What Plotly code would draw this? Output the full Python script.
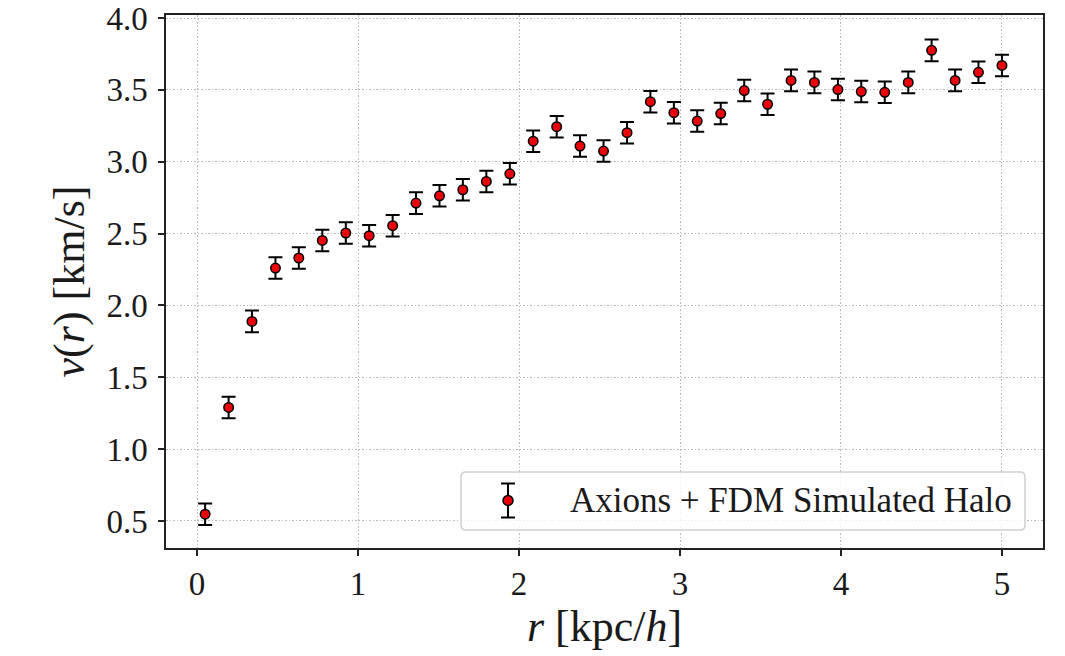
import plotly.graph_objects as go

r_vals = [0.05, 0.196, 0.341, 0.487, 0.632, 0.778, 0.924, 1.069, 1.215, 1.360,
          1.506, 1.651, 1.797, 1.943, 2.088, 2.234, 2.379, 2.525, 2.671, 2.816,
          2.962, 3.107, 3.253, 3.399, 3.544, 3.690, 3.835, 3.981, 4.126, 4.272,
          4.418, 4.563, 4.709, 4.854, 5.0]
v_vals = [0.547, 1.29, 1.889, 2.260, 2.330, 2.452, 2.504, 2.485, 2.555, 2.712,
          2.763, 2.805, 2.863, 2.916, 3.143, 3.244, 3.109, 3.074, 3.202, 3.418,
          3.341, 3.283, 3.335, 3.495, 3.400, 3.566, 3.552, 3.502, 3.488, 3.483,
          3.552, 3.775, 3.566, 3.622, 3.670]
v_err = [0.075, 0.075, 0.075, 0.075, 0.075, 0.075, 0.075, 0.075, 0.075, 0.075,
         0.075, 0.075, 0.075, 0.075, 0.075, 0.075, 0.075, 0.075, 0.075, 0.075,
         0.075, 0.075, 0.075, 0.075, 0.075, 0.075, 0.075, 0.075, 0.075, 0.075,
         0.075, 0.075, 0.075, 0.075, 0.075]
x_ticks = [0, 1, 2, 3, 4, 5]
y_ticks = [0.5, 1.0, 1.5, 2.0, 2.5, 3.0, 3.5, 4.0]
series_name = "Axions + FDM Simulated Halo"

FONT = "Liberation Serif"
TXT = "#1a1a1a"
RED = "#e8000b"

# plot-area geometry (pixels) used to place the hand-drawn legend
W, H = 1065, 656
ML, MR, MT, MB = 166, 22, 15, 108
PW, PH = W - ML - MR, H - MT - MB


def px2x(px):
    return (px - ML) / PW


def px2y(py):
    return (H - MB - py) / PH


fig = go.Figure()
fig.add_trace(go.Scatter(
    x=r_vals, y=v_vals, mode="markers", name=series_name, showlegend=False,
    marker=dict(color=RED, size=9.5, line=dict(color="black", width=1.5)),
    error_y=dict(type="data", array=v_err, visible=True, color="black",
                 thickness=2, width=7),
))

# legend (matplotlib-style rounded frame with errorbar glyph)
bx0, bx1, by0, by1, rad = 461, 1025, 472, 530, 5
path = (
    f"M {px2x(bx0 + rad)},{px2y(by0)} L {px2x(bx1 - rad)},{px2y(by0)} "
    f"Q {px2x(bx1)},{px2y(by0)} {px2x(bx1)},{px2y(by0 + rad)} "
    f"L {px2x(bx1)},{px2y(by1 - rad)} "
    f"Q {px2x(bx1)},{px2y(by1)} {px2x(bx1 - rad)},{px2y(by1)} "
    f"L {px2x(bx0 + rad)},{px2y(by1)} "
    f"Q {px2x(bx0)},{px2y(by1)} {px2x(bx0)},{px2y(by1 - rad)} "
    f"L {px2x(bx0)},{px2y(by0 + rad)} "
    f"Q {px2x(bx0)},{px2y(by0)} {px2x(bx0 + rad)},{px2y(by0)} Z"
)
gx, gy, gh, gc = 508, 500.5, 17, 7
shapes = [
    dict(type="path", path=path, xref="paper", yref="paper", layer="above",
         fillcolor="rgba(255,255,255,0.8)", line=dict(color="#cfcfcf", width=1.5)),
    dict(type="line", xref="paper", yref="paper", layer="above",
         x0=px2x(gx), x1=px2x(gx), y0=px2y(gy - gh), y1=px2y(gy + gh),
         line=dict(color="black", width=2)),
    dict(type="line", xref="paper", yref="paper", layer="above",
         x0=px2x(gx - gc), x1=px2x(gx + gc), y0=px2y(gy - gh), y1=px2y(gy - gh),
         line=dict(color="black", width=2)),
    dict(type="line", xref="paper", yref="paper", layer="above",
         x0=px2x(gx - gc), x1=px2x(gx + gc), y0=px2y(gy + gh), y1=px2y(gy + gh),
         line=dict(color="black", width=2)),
    dict(type="circle", xref="paper", yref="paper", layer="above",
         x0=px2x(gx - 5), x1=px2x(gx + 5), y0=px2y(gy + 5), y1=px2y(gy - 5),
         fillcolor=RED, line=dict(color="black", width=1.5)),
]

fig.update_layout(
    width=W, height=H,
    margin=dict(l=ML, r=MR, t=MT, b=MB, autoexpand=False),
    paper_bgcolor="white", plot_bgcolor="white",
    font=dict(family=FONT, size=33, color=TXT),
    showlegend=False,
    shapes=shapes,
    annotations=[dict(text=series_name, xref="paper", yref="paper",
                      x=px2x(1014), y=px2y(gy), xanchor="right", yanchor="middle",
                      showarrow=False, font=dict(family=FONT, size=35, color=TXT))],
)
fig.update_xaxes(
    range=[-0.193, 5.255], tickvals=x_ticks, ticktext=[str(t) for t in x_ticks],
    showline=True, linecolor="#222", linewidth=1.5, mirror=True,
    ticks="outside", ticklen=6, tickwidth=1.5, tickcolor="#222",
    showgrid=True, gridcolor="#b8b8b8", griddash="1.5px,2px", gridwidth=1,
    zeroline=False, automargin=False,
    title=dict(text="<i>r</i> [kpc/<i>h</i>]", font=dict(family=FONT, size=44), standoff=4),
)
fig.update_yaxes(
    range=[0.312, 4.021], tickvals=y_ticks, ticktext=[f"{t:.1f}" for t in y_ticks],
    showline=True, linecolor="#222", linewidth=1.5, mirror=True,
    ticks="outside", ticklen=6, tickwidth=1.5, tickcolor="#222",
    showgrid=True, gridcolor="#b8b8b8", griddash="1.5px,2px", gridwidth=1,
    zeroline=False, automargin=False, ticklabelstandoff=4,
    title=dict(text="<i>v</i>(<i>r</i>) [km/s]", font=dict(family=FONT, size=44), standoff=8),
)

fig.write_html("out.html")
